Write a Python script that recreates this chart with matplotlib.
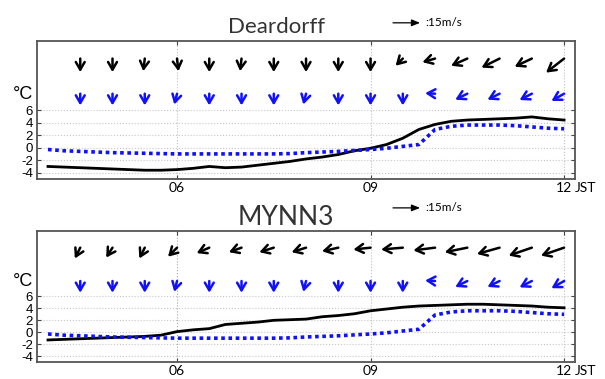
import numpy as np
import matplotlib
matplotlib.use('Agg')
import matplotlib.pyplot as plt
import matplotlib.transforms as mtransforms

# time axis (JST hours), temperatures every 15 min
hours = np.arange(4.0, 12.01, 0.25)

obs_temp = [-0.3, -0.5, -0.6, -0.7, -0.8, -0.85, -0.9, -0.95, -1.0, -1.0, -1.0,
            -1.0, -1.0, -1.0, -1.0, -0.95, -0.8, -0.7, -0.6, -0.45, -0.3, -0.1,
            0.2, 0.5, 2.9, 3.4, 3.6, 3.6, 3.6, 3.5, 3.3, 3.1, 3.0]

deardorff_temp = [-3.0, -3.1, -3.2, -3.3, -3.4, -3.5, -3.6, -3.6, -3.5, -3.3, -3.0,
                  -3.2, -3.1, -2.8, -2.5, -2.2, -1.8, -1.5, -1.1, -0.5, -0.1, 0.5,
                  1.5, 2.9, 3.7, 4.2, 4.4, 4.5, 4.6, 4.7, 4.9, 4.6, 4.4]

mynn3_temp = [-1.3, -1.2, -1.1, -1.0, -0.9, -0.8, -0.7, -0.5, 0.1, 0.4, 0.6,
              1.3, 1.5, 1.7, 2.0, 2.1, 2.2, 2.6, 2.8, 3.1, 3.6, 3.9,
              4.2, 4.4, 4.5, 4.6, 4.7, 4.7, 4.6, 4.5, 4.4, 4.2, 4.1]

# wind vectors every 30 min, 04:30 - 12:00 (m/s)
wind_hours = [4.5, 5.0, 5.5, 6.0, 6.5, 7.0, 7.5, 8.0, 8.5, 9.0, 9.5, 10.0, 10.5, 11.0, 11.5, 12.0]

obs_u = [0, 0, 0, -1.5, 0, 0, 0, -1.5, 0, 0, 0, -5.5, -6.7, -6.7, -6.8, -7.0]
obs_v = [-6.5, -6.5, -6.5, -6.0, -6.5, -6.5, -6.5, -6.0, -6.5, -6.5, -6.5, 0.3, -3.3, -3.3, -3.5, -4.0]

deardorff_u = [0, 0, -0.8, 0.8, 0, -0.8, 0, 0, 0, 0, -4.0, -7.0, -9.0, -10.0, -9.5, -10.0]
deardorff_v = [-7.5, -7.5, -7.0, -7.0, -7.5, -7.0, -7.5, -7.5, -7.5, -7.5, -4.0, -2.0, -4.0, -5.0, -4.5, -7.8]

mynn3_u = [-3.0, -3.5, -3.0, -5.0, -7.0, -7.0, -8.0, -8.0, -9.0, -9.5, -12.0, -12.0, -12.5, -12.5, -12.8, -12.8]
mynn3_v = [-6.0, -5.5, -6.0, -5.0, -3.0, -2.5, -2.5, -2.5, -2.0, -1.0, -1.0, -1.5, -2.5, -3.5, -4.4, -4.4]

y_ticks = [-4, -2, 0, 2, 4, 6]
x_ticks = [6, 9, 12]
x_labels = ['06', '09', '12']

PT_PER_MS = 1.3   # arrow length scale (points per m/s)
KEY_SPEED = 15

fig = plt.figure(figsize=(6.05, 3.79), dpi=100)
ax1 = fig.add_axes([0.0612, 0.5277, 0.8893, 0.3641])
ax2 = fig.add_axes([0.0612, 0.0449, 0.8893, 0.3456])


def draw_wind(ax, row, uu, vv, color):
    for t, u, v in zip(wind_hours, uu, vv):
        head = mtransforms.offset_copy(ax.transData, fig=fig, x=u * PT_PER_MS,
                                       y=v * PT_PER_MS, units='points')
        ax.annotate('', xy=(t, row), xycoords=head, xytext=(t, row), textcoords='data',
                    arrowprops=dict(arrowstyle='->,head_length=0.55,head_width=0.32',
                                    color=color, lw=1.8, shrinkA=0, shrinkB=0))


def style_panel(ax, model_temp, mu, mv, title, title_x, title_size, title_gap, key_gap,
                grid6_color):
    ax.plot(hours, model_temp, color='black', lw=2.0, zorder=4)
    ax.plot(hours, obs_temp, color='#1010ff', lw=2.6, linestyle=(0, (1, 1)), zorder=5)
    ax.set_xlim(3.83, 12.17)
    ax.set_ylim(-5, 17)
    ax.set_yticks(y_ticks)
    ax.set_yticklabels([str(v) for v in y_ticks],
                       family=['Liberation Sans Narrow', 'Liberation Sans'], fontsize=9.5)
    ax.set_xticks(x_ticks)
    ax.set_xticklabels(x_labels, family='Lato', fontsize=10)
    ax.tick_params(direction='in', top=True, right=True, length=3, width=0.8,
                   color='#444444')
    ax.tick_params(axis='y', pad=3)
    ax.tick_params(axis='x', pad=2)
    for s in ax.spines.values():
        s.set_color('#555555')
        s.set_linewidth(1.3)
    for yv in y_ticks:
        ax.axhline(yv, color='#c8c8c8', lw=0.8, ls=':', zorder=1)
    for xv in x_ticks:
        c = grid6_color if xv == 6 else '#c0c0c0'
        ax.axvline(xv, color=c, lw=0.8, ls=':', zorder=1)

    draw_wind(ax, 14.2, mu, mv, 'black')
    draw_wind(ax, 8.6, obs_u, obs_v, '#1010ff')

    deg = mtransforms.blended_transform_factory(ax.transAxes, ax.transData)
    ax.text(-0.008, 7.7, '°C', transform=deg, ha='right', va='baseline',
            family='Liberation Sans', fontsize=13)
    ax.annotate('JST', xy=(12, 0), xycoords=('data', 'axes fraction'),
                xytext=(8, -2.2), textcoords='offset points', ha='left', va='top',
                family='Lato', fontsize=10)

    # title and reference arrow above the panel
    pos = ax.get_position()
    fig.text(title_x, pos.y1 + title_gap, title, ha='center', va='baseline',
             family='Lato', fontsize=title_size, color='#333333')
    key_y = pos.y1 + key_gap
    key_x0 = 393 / 605
    tail = mtransforms.offset_copy(fig.transFigure, fig=fig, x=KEY_SPEED * PT_PER_MS,
                                   y=0, units='points')
    fig.add_artist(matplotlib.text.Annotation(
        '', xy=(key_x0, key_y), xycoords=tail, xytext=(key_x0, key_y),
        textcoords='figure fraction',
        arrowprops=dict(arrowstyle='-|>,head_length=0.5,head_width=0.2',
                        color='black', lw=0.9, shrinkA=0, shrinkB=0)))
    fig.text(425 / 605, key_y, ':%dm/s' % KEY_SPEED, ha='left', va='center',
             family='Lato', fontsize=8.5)


style_panel(ax1, deardorff_temp, deardorff_u, deardorff_v, 'Deardorff', 277 / 605, 16,
            0.022, 0.048, '#c0c0c0')
style_panel(ax2, mynn3_temp, mynn3_u, mynn3_v, 'MYNN3', 286 / 605, 19,
            0.016, 0.061, '#7fb0e0')

fig.savefig('out.png', dpi=100)
